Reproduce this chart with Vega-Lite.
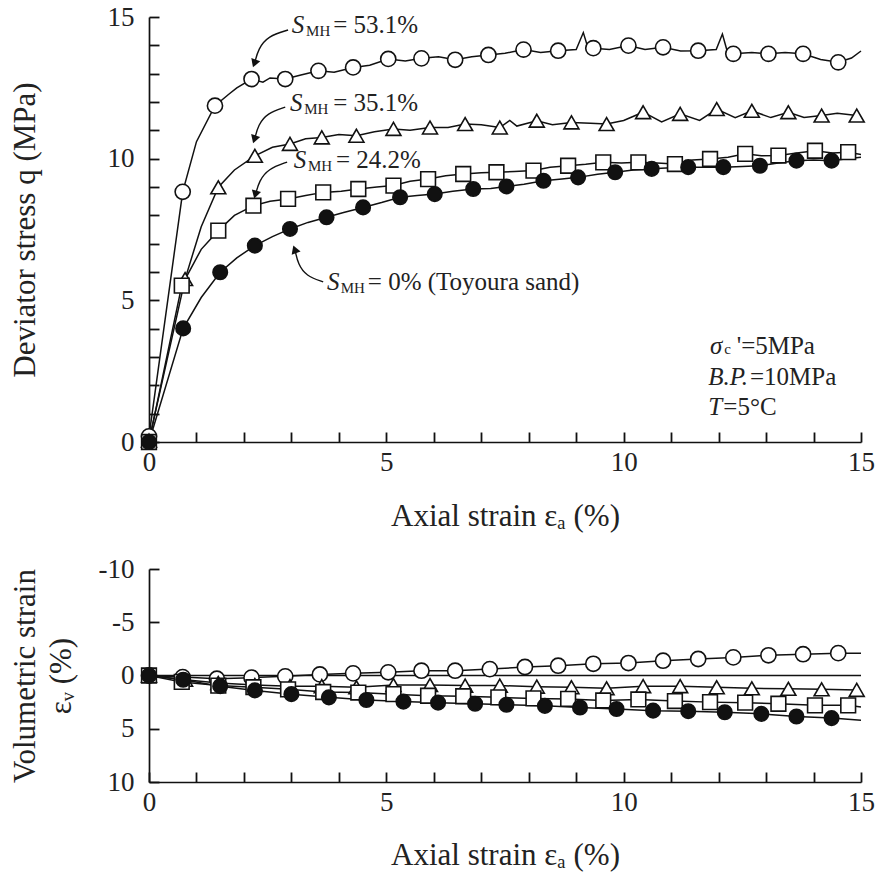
{
  "$schema": "https://vega.github.io/schema/vega-lite/v6.json",
  "background": "white",
  "padding": {"left": 9, "top": 3, "right": 4, "bottom": 5},
  "bounds": "flush",
  "spacing": 127,
  "config": {
    "view": {"stroke": null},
    "font": "Liberation Serif",
    "axis": {
      "domainColor": "#111", "domainWidth": 1.7, "tickColor": "#111", "tickWidth": 1.8, "tickSize": -10,
      "grid": false, "labelFont": "Liberation Serif", "labelFontSize": 27, "labelColor": "#222",
      "titleFont": "Liberation Serif", "titleFontSize": 31, "titleFontWeight": "normal", "titleColor": "#222",
      "labelFlush": false, "labelOverlap": false, "labelBound": false
    }
  },
  "datasets": {
    "q": [
      {"s":"53.1","e":0,"q":0.2,"m":1},{"s":"53.1","e":0.71,"q":8.83,"m":1},{"s":"53.1","e":1.0,"q":10.6,"m":0},{"s":"53.1","e":1.39,"q":11.87,"m":1},{"s":"53.1","e":1.7,"q":12.3,"m":0},{"s":"53.1","e":1.85,"q":12.5,"m":0},{"s":"53.1","e":2.16,"q":12.81,"m":1},{"s":"53.1","e":2.4,"q":12.7,"m":0},{"s":"53.1","e":2.55,"q":12.85,"m":0},{"s":"53.1","e":2.87,"q":12.81,"m":1},{"s":"53.1","e":3.2,"q":12.95,"m":0},{"s":"53.1","e":3.57,"q":13.1,"m":1},{"s":"53.1","e":3.9,"q":13.05,"m":0},{"s":"53.1","e":4.3,"q":13.22,"m":1},{"s":"53.1","e":4.65,"q":13.3,"m":0},{"s":"53.1","e":5.04,"q":13.52,"m":1},{"s":"53.1","e":5.4,"q":13.45,"m":0},{"s":"53.1","e":5.74,"q":13.54,"m":1},{"s":"53.1","e":6.1,"q":13.6,"m":0},{"s":"53.1","e":6.45,"q":13.49,"m":1},{"s":"53.1","e":6.8,"q":13.6,"m":0},{"s":"53.1","e":7.15,"q":13.66,"m":1},{"s":"53.1","e":7.5,"q":13.72,"m":0},{"s":"53.1","e":7.89,"q":13.85,"m":1},{"s":"53.1","e":8.25,"q":13.75,"m":0},{"s":"53.1","e":8.62,"q":13.81,"m":1},{"s":"53.1","e":9.0,"q":13.85,"m":0},{"s":"53.1","e":9.15,"q":14.45,"m":0},{"s":"53.1","e":9.25,"q":13.9,"m":0},{"s":"53.1","e":9.36,"q":13.9,"m":1},{"s":"53.1","e":9.7,"q":13.85,"m":0},{"s":"53.1","e":10.1,"q":13.99,"m":1},{"s":"53.1","e":10.45,"q":13.85,"m":0},{"s":"53.1","e":10.83,"q":13.93,"m":1},{"s":"53.1","e":11.2,"q":13.8,"m":0},{"s":"53.1","e":11.57,"q":13.81,"m":1},{"s":"53.1","e":11.95,"q":13.85,"m":0},{"s":"53.1","e":12.08,"q":14.4,"m":0},{"s":"53.1","e":12.18,"q":13.8,"m":0},{"s":"53.1","e":12.31,"q":13.7,"m":1},{"s":"53.1","e":12.7,"q":13.75,"m":0},{"s":"53.1","e":13.05,"q":13.7,"m":1},{"s":"53.1","e":13.4,"q":13.75,"m":0},{"s":"53.1","e":13.78,"q":13.7,"m":1},{"s":"53.1","e":14.15,"q":13.5,"m":0},{"s":"53.1","e":14.52,"q":13.4,"m":1},{"s":"53.1","e":14.8,"q":13.55,"m":0},{"s":"53.1","e":15.0,"q":13.8,"m":0},
      {"s":"35.1","e":0,"q":0.05,"m":1},{"s":"35.1","e":0.76,"q":5.75,"m":1},{"s":"35.1","e":1.1,"q":7.6,"m":0},{"s":"35.1","e":1.46,"q":8.99,"m":1},{"s":"35.1","e":1.8,"q":9.6,"m":0},{"s":"35.1","e":2.23,"q":10.1,"m":1},{"s":"35.1","e":2.6,"q":10.4,"m":0},{"s":"35.1","e":2.97,"q":10.52,"m":1},{"s":"35.1","e":3.3,"q":10.7,"m":0},{"s":"35.1","e":3.64,"q":10.75,"m":1},{"s":"35.1","e":4.0,"q":10.85,"m":0},{"s":"35.1","e":4.37,"q":10.81,"m":1},{"s":"35.1","e":4.75,"q":10.95,"m":0},{"s":"35.1","e":5.15,"q":11.05,"m":1},{"s":"35.1","e":5.5,"q":11.0,"m":0},{"s":"35.1","e":5.92,"q":11.1,"m":1},{"s":"35.1","e":6.3,"q":11.1,"m":0},{"s":"35.1","e":6.66,"q":11.22,"m":1},{"s":"35.1","e":7.0,"q":11.2,"m":0},{"s":"35.1","e":7.39,"q":11.1,"m":1},{"s":"35.1","e":7.6,"q":11.35,"m":0},{"s":"35.1","e":7.75,"q":11.15,"m":0},{"s":"35.1","e":8.17,"q":11.34,"m":1},{"s":"35.1","e":8.5,"q":11.2,"m":0},{"s":"35.1","e":8.9,"q":11.28,"m":1},{"s":"35.1","e":9.3,"q":11.25,"m":0},{"s":"35.1","e":9.64,"q":11.22,"m":1},{"s":"35.1","e":10.0,"q":11.35,"m":0},{"s":"35.1","e":10.41,"q":11.64,"m":1},{"s":"35.1","e":10.8,"q":11.3,"m":0},{"s":"35.1","e":11.19,"q":11.58,"m":1},{"s":"35.1","e":11.6,"q":11.35,"m":0},{"s":"35.1","e":11.96,"q":11.75,"m":1},{"s":"35.1","e":12.35,"q":11.45,"m":0},{"s":"35.1","e":12.7,"q":11.69,"m":1},{"s":"35.1","e":13.1,"q":11.45,"m":0},{"s":"35.1","e":13.47,"q":11.64,"m":1},{"s":"35.1","e":13.8,"q":11.45,"m":0},{"s":"35.1","e":14.17,"q":11.52,"m":1},{"s":"35.1","e":14.5,"q":11.6,"m":0},{"s":"35.1","e":14.91,"q":11.52,"m":1},
      {"s":"24.2","e":0,"q":0,"m":1},{"s":"24.2","e":0.69,"q":5.52,"m":1},{"s":"24.2","e":1.1,"q":6.8,"m":0},{"s":"24.2","e":1.46,"q":7.46,"m":1},{"s":"24.2","e":1.8,"q":8.0,"m":0},{"s":"24.2","e":2.2,"q":8.34,"m":1},{"s":"24.2","e":2.55,"q":8.5,"m":0},{"s":"24.2","e":2.93,"q":8.58,"m":1},{"s":"24.2","e":3.3,"q":8.7,"m":0},{"s":"24.2","e":3.67,"q":8.81,"m":1},{"s":"24.2","e":4.05,"q":8.85,"m":0},{"s":"24.2","e":4.41,"q":8.93,"m":1},{"s":"24.2","e":4.8,"q":9.0,"m":0},{"s":"24.2","e":5.15,"q":9.05,"m":1},{"s":"24.2","e":5.5,"q":9.2,"m":0},{"s":"24.2","e":5.88,"q":9.28,"m":1},{"s":"24.2","e":6.25,"q":9.4,"m":0},{"s":"24.2","e":6.62,"q":9.46,"m":1},{"s":"24.2","e":7.0,"q":9.5,"m":0},{"s":"24.2","e":7.32,"q":9.52,"m":1},{"s":"24.2","e":7.7,"q":9.55,"m":0},{"s":"24.2","e":8.1,"q":9.58,"m":1},{"s":"24.2","e":8.45,"q":9.7,"m":0},{"s":"24.2","e":8.83,"q":9.75,"m":1},{"s":"24.2","e":9.2,"q":9.8,"m":0},{"s":"24.2","e":9.57,"q":9.87,"m":1},{"s":"24.2","e":9.95,"q":9.85,"m":0},{"s":"24.2","e":10.31,"q":9.87,"m":1},{"s":"24.2","e":10.7,"q":9.85,"m":0},{"s":"24.2","e":11.08,"q":9.81,"m":1},{"s":"24.2","e":11.45,"q":9.95,"m":0},{"s":"24.2","e":11.82,"q":9.99,"m":1},{"s":"24.2","e":12.2,"q":10.05,"m":0},{"s":"24.2","e":12.56,"q":10.17,"m":1},{"s":"24.2","e":12.9,"q":10.1,"m":0},{"s":"24.2","e":13.26,"q":10.11,"m":1},{"s":"24.2","e":13.65,"q":10.2,"m":0},{"s":"24.2","e":14.03,"q":10.28,"m":1},{"s":"24.2","e":14.4,"q":10.2,"m":0},{"s":"24.2","e":14.73,"q":10.23,"m":1},{"s":"24.2","e":15.0,"q":10.15,"m":0},
      {"s":"0","e":0,"q":0,"m":1},{"s":"0","e":0.72,"q":4.01,"m":1},{"s":"0","e":1.1,"q":5.1,"m":0},{"s":"0","e":1.5,"q":5.99,"m":1},{"s":"0","e":1.85,"q":6.5,"m":0},{"s":"0","e":2.23,"q":6.93,"m":1},{"s":"0","e":2.6,"q":7.25,"m":0},{"s":"0","e":2.97,"q":7.52,"m":1},{"s":"0","e":3.35,"q":7.75,"m":0},{"s":"0","e":3.74,"q":7.93,"m":1},{"s":"0","e":4.1,"q":8.1,"m":0},{"s":"0","e":4.51,"q":8.28,"m":1},{"s":"0","e":4.9,"q":8.45,"m":0},{"s":"0","e":5.29,"q":8.64,"m":1},{"s":"0","e":5.65,"q":8.7,"m":0},{"s":"0","e":6.02,"q":8.75,"m":1},{"s":"0","e":6.4,"q":8.85,"m":0},{"s":"0","e":6.83,"q":8.93,"m":1},{"s":"0","e":7.2,"q":8.95,"m":0},{"s":"0","e":7.53,"q":9.02,"m":1},{"s":"0","e":7.9,"q":9.1,"m":0},{"s":"0","e":8.31,"q":9.22,"m":1},{"s":"0","e":8.7,"q":9.28,"m":0},{"s":"0","e":9.04,"q":9.34,"m":1},{"s":"0","e":9.45,"q":9.45,"m":0},{"s":"0","e":9.82,"q":9.52,"m":1},{"s":"0","e":10.2,"q":9.6,"m":0},{"s":"0","e":10.59,"q":9.64,"m":1},{"s":"0","e":11.0,"q":9.68,"m":0},{"s":"0","e":11.36,"q":9.7,"m":1},{"s":"0","e":11.75,"q":9.7,"m":0},{"s":"0","e":12.1,"q":9.7,"m":1},{"s":"0","e":12.5,"q":9.72,"m":0},{"s":"0","e":12.87,"q":9.75,"m":1},{"s":"0","e":13.25,"q":9.85,"m":0},{"s":"0","e":13.64,"q":9.93,"m":1},{"s":"0","e":14.0,"q":9.95,"m":0},{"s":"0","e":14.38,"q":9.93,"m":1},{"s":"0","e":14.7,"q":10.0,"m":0},{"s":"0","e":15.0,"q":10.05,"m":0}
    ],
    "v": [
      {"s":"53.1","e":0,"v":0,"m":1},{"s":"53.1","e":0.71,"v":0.15,"m":1},{"s":"53.1","e":1.43,"v":0.3,"m":1},{"s":"53.1","e":2.16,"v":0.2,"m":1},{"s":"53.1","e":2.87,"v":0.08,"m":1},{"s":"53.1","e":3.6,"v":-0.1,"m":1},{"s":"53.1","e":4.3,"v":-0.2,"m":1},{"s":"53.1","e":5.04,"v":-0.3,"m":1},{"s":"53.1","e":5.74,"v":-0.45,"m":1},{"s":"53.1","e":6.45,"v":-0.45,"m":1},{"s":"53.1","e":7.18,"v":-0.6,"m":1},{"s":"53.1","e":7.92,"v":-0.8,"m":1},{"s":"53.1","e":8.62,"v":-0.92,"m":1},{"s":"53.1","e":9.36,"v":-1.1,"m":1},{"s":"53.1","e":10.1,"v":-1.17,"m":1},{"s":"53.1","e":10.83,"v":-1.39,"m":1},{"s":"53.1","e":11.57,"v":-1.55,"m":1},{"s":"53.1","e":12.31,"v":-1.7,"m":1},{"s":"53.1","e":13.05,"v":-1.9,"m":1},{"s":"53.1","e":13.78,"v":-2.0,"m":1},{"s":"53.1","e":14.52,"v":-2.1,"m":1},{"s":"53.1","e":15.0,"v":-2.1,"m":0},
      {"s":"35.1","e":0,"v":0,"m":1},{"s":"35.1","e":0.76,"v":0.4,"m":1},{"s":"35.1","e":1.46,"v":0.7,"m":1},{"s":"35.1","e":2.23,"v":0.9,"m":1},{"s":"35.1","e":2.97,"v":1.0,"m":1},{"s":"35.1","e":3.64,"v":1.0,"m":1},{"s":"35.1","e":4.37,"v":1.1,"m":1},{"s":"35.1","e":5.15,"v":0.9,"m":1},{"s":"35.1","e":5.92,"v":0.9,"m":1},{"s":"35.1","e":6.66,"v":0.95,"m":1},{"s":"35.1","e":7.39,"v":0.95,"m":1},{"s":"35.1","e":8.17,"v":1.05,"m":1},{"s":"35.1","e":8.9,"v":1.1,"m":1},{"s":"35.1","e":9.64,"v":1.2,"m":1},{"s":"35.1","e":10.41,"v":1.0,"m":1},{"s":"35.1","e":11.19,"v":1.0,"m":1},{"s":"35.1","e":11.96,"v":1.1,"m":1},{"s":"35.1","e":12.7,"v":1.2,"m":1},{"s":"35.1","e":13.47,"v":1.25,"m":1},{"s":"35.1","e":14.17,"v":1.3,"m":1},{"s":"35.1","e":14.91,"v":1.35,"m":1},
      {"s":"24.2","e":0,"v":0,"m":1},{"s":"24.2","e":0.69,"v":0.6,"m":1},{"s":"24.2","e":1.46,"v":0.95,"m":1},{"s":"24.2","e":2.2,"v":1.1,"m":1},{"s":"24.2","e":2.93,"v":1.3,"m":1},{"s":"24.2","e":3.67,"v":1.55,"m":1},{"s":"24.2","e":4.41,"v":1.6,"m":1},{"s":"24.2","e":5.15,"v":1.75,"m":1},{"s":"24.2","e":5.88,"v":1.9,"m":1},{"s":"24.2","e":6.62,"v":1.95,"m":1},{"s":"24.2","e":7.36,"v":2.05,"m":1},{"s":"24.2","e":8.1,"v":2.15,"m":1},{"s":"24.2","e":8.83,"v":2.2,"m":1},{"s":"24.2","e":9.57,"v":2.35,"m":1},{"s":"24.2","e":10.31,"v":2.25,"m":1},{"s":"24.2","e":11.08,"v":2.4,"m":1},{"s":"24.2","e":11.82,"v":2.5,"m":1},{"s":"24.2","e":12.56,"v":2.55,"m":1},{"s":"24.2","e":13.26,"v":2.65,"m":1},{"s":"24.2","e":14.03,"v":2.8,"m":1},{"s":"24.2","e":14.73,"v":2.8,"m":1},{"s":"24.2","e":15.0,"v":2.95,"m":0},
      {"s":"0","e":0,"v":0,"m":1},{"s":"0","e":0.72,"v":0.4,"m":1},{"s":"0","e":1.5,"v":1.0,"m":1},{"s":"0","e":2.23,"v":1.4,"m":1},{"s":"0","e":3.0,"v":1.75,"m":1},{"s":"0","e":3.79,"v":2.05,"m":1},{"s":"0","e":4.58,"v":2.3,"m":1},{"s":"0","e":5.36,"v":2.45,"m":1},{"s":"0","e":6.09,"v":2.55,"m":1},{"s":"0","e":6.87,"v":2.65,"m":1},{"s":"0","e":7.53,"v":2.75,"m":1},{"s":"0","e":8.34,"v":2.85,"m":1},{"s":"0","e":9.08,"v":3.0,"m":1},{"s":"0","e":9.85,"v":3.15,"m":1},{"s":"0","e":10.62,"v":3.3,"m":1},{"s":"0","e":11.36,"v":3.35,"m":1},{"s":"0","e":12.13,"v":3.45,"m":1},{"s":"0","e":12.9,"v":3.6,"m":1},{"s":"0","e":13.64,"v":3.85,"m":1},{"s":"0","e":14.38,"v":4.0,"m":1},{"s":"0","e":15.0,"v":4.2,"m":0}
    ],
    "annIt": [
      {"e":3.01,"q":14.72,"t":"S"},{"e":2.97,"q":11.97,"t":"S"},{"e":3.05,"q":9.95,"t":"S"},{"e":3.75,"q":5.65,"t":"S"},
      {"e":11.82,"q":3.40,"t":"σ"},{"e":11.78,"q":2.28,"t":"B.P."},{"e":11.78,"q":1.22,"t":"T"}
    ],
    "annSub": [
      {"e":3.31,"q":14.51,"t":"MH"},{"e":3.27,"q":11.75,"t":"MH"},{"e":3.35,"q":9.74,"t":"MH"},{"e":4.04,"q":5.44,"t":"MH"},
      {"e":12.12,"q":3.28,"t":"c"}
    ],
    "annRm": [
      {"e":3.88,"q":14.72,"t":"= 53.1%"},{"e":3.88,"q":11.97,"t":"= 35.1%"},{"e":3.94,"q":9.95,"t":"= 24.2%"},{"e":4.61,"q":5.65,"t":"= 0% (Toyoura sand)"},
      {"e":12.38,"q":3.40,"t":"'=5MPa"},{"e":12.66,"q":2.28,"t":"=10MPa"},{"e":12.1,"q":1.22,"t":"=5°C"}
    ],
    "arrows": [
      {"a":"53.1","o":1,"e":2.93,"q":14.54},{"a":"53.1","o":2,"e":2.51,"q":14.33},{"a":"53.1","o":3,"e":2.3,"q":13.87},{"a":"53.1","o":4,"e":2.23,"q":13.4},
      {"a":"35.1","o":1,"e":2.87,"q":11.82},{"a":"35.1","o":2,"e":2.49,"q":11.61},{"a":"35.1","o":3,"e":2.3,"q":11.19},{"a":"35.1","o":4,"e":2.23,"q":10.72},
      {"a":"24.2","o":1,"e":2.91,"q":9.88},{"a":"24.2","o":2,"e":2.51,"q":9.64},{"a":"24.2","o":3,"e":2.32,"q":9.21},{"a":"24.2","o":4,"e":2.25,"q":8.77},
      {"a":"0","o":1,"e":3.67,"q":5.65},{"a":"0","o":2,"e":3.31,"q":5.86},{"a":"0","o":3,"e":3.14,"q":6.28},{"a":"0","o":4,"e":3.08,"q":6.75}
    ],
    "heads": [
      {"a":"53.1","e":2.22,"q":13.36},{"a":"35.1","e":2.22,"q":10.68},{"a":"24.2","e":2.24,"q":8.73},{"a":"0","e":3.07,"q":6.8}
    ],
    "zero": [{"e":0,"v":0},{"e":15,"v":0}]
  },
  "vconcat": [
    {
      "width": 712,
      "height": 425,
      "encoding": {
        "x": {"field": "e", "type": "quantitative", "scale": {"domain": [0, 15], "nice": false},
          "axis": {"title": "Axial strain  εₐ (%)", "values": [0,1,2,3,4,5,6,7,8,9,10,11,12,13,14,15], "tickCount": 30, "format": "d",
            "labelExpr": "datum.value % 5 === 0 ? datum.label : ''", "labelPadding": 17, "titlePadding": 26}},
        "y": {"field": "q", "type": "quantitative", "scale": {"domain": [0, 15], "nice": false},
          "axis": {"title": "Deviator stress  q (MPa)", "values": [0,1,2,3,4,5,6,7,8,9,10,11,12,13,14,15], "tickCount": 30, "format": "d",
            "labelExpr": "datum.value % 5 === 0 ? datum.label : ''", "labelPadding": 25, "titlePadding": 66}}
      },
      "layer": [
        {
          "data": {"name": "q"},
          "mark": {"type": "line", "color": "#111", "strokeWidth": 1.5},
          "encoding": {"detail": {"field": "s"}}
        },
        {
          "data": {"name": "q"},
          "transform": [{"filter": "datum.m == 1"}],
          "mark": {"type": "point", "filled": true, "stroke": "#111", "strokeWidth": 1.6, "opacity": 1},
          "encoding": {
            "shape": {"field": "s", "type": "nominal", "scale": {"domain": ["53.1","35.1","24.2","0"], "range": ["circle","triangle-up","square","circle"]}, "legend": null},
            "fill": {"field": "s", "type": "nominal", "scale": {"domain": ["53.1","35.1","24.2","0"], "range": ["white","white","white","#111"]}, "legend": null},
            "size": {"field": "s", "type": "nominal", "scale": {"domain": ["53.1","35.1","24.2","0"], "range": [230, 210, 160, 230]}, "legend": null}
          }
        },
        {
          "data": {"name": "arrows"},
          "mark": {"type": "line", "color": "#111", "strokeWidth": 1.4, "interpolate": "basis"},
          "encoding": {"detail": {"field": "a"}, "order": {"field": "o"}}
        },
        {
          "data": {"name": "heads"},
          "transform": [{"filter": "datum.a == '53.1'"}],
          "mark": {"type": "point", "shape": "triangle-up", "angle": 200, "size": 90, "filled": true, "color": "#111", "opacity": 1}
        },
        {
          "data": {"name": "heads"},
          "transform": [{"filter": "datum.a == '35.1'"}],
          "mark": {"type": "point", "shape": "triangle-up", "angle": 198, "size": 90, "filled": true, "color": "#111", "opacity": 1}
        },
        {
          "data": {"name": "heads"},
          "transform": [{"filter": "datum.a == '24.2'"}],
          "mark": {"type": "point", "shape": "triangle-up", "angle": 196, "size": 90, "filled": true, "color": "#111", "opacity": 1}
        },
        {
          "data": {"name": "heads"},
          "transform": [{"filter": "datum.a == '0'"}],
          "mark": {"type": "point", "shape": "triangle-up", "angle": 340, "size": 90, "filled": true, "color": "#111", "opacity": 1}
        },
        {
          "data": {"name": "annIt"},
          "mark": {"type": "text", "align": "left", "baseline": "middle", "font": "Liberation Serif", "fontSize": 25, "fontStyle": "italic", "color": "#222"},
          "encoding": {"text": {"field": "t"}}
        },
        {
          "data": {"name": "annSub"},
          "mark": {"type": "text", "align": "left", "baseline": "middle", "font": "Liberation Serif", "fontSize": 15, "color": "#222"},
          "encoding": {"text": {"field": "t"}}
        },
        {
          "data": {"name": "annRm"},
          "mark": {"type": "text", "align": "left", "baseline": "middle", "font": "Liberation Serif", "fontSize": 25, "color": "#222"},
          "encoding": {"text": {"field": "t"}}
        }
      ]
    },
    {
      "width": 712,
      "height": 213,
      "encoding": {
        "x": {"field": "e", "type": "quantitative", "scale": {"domain": [0, 15], "nice": false},
          "axis": {"title": "Axial strain  εₐ (%)", "values": [0,1,2,3,4,5,6,7,8,9,10,11,12,13,14,15], "tickCount": 30, "format": "d",
            "labelExpr": "datum.value % 5 === 0 ? datum.label : ''", "labelPadding": 17, "titlePadding": 25}},
        "y": {"field": "v", "type": "quantitative", "scale": {"domain": [-10, 10], "nice": false, "reverse": true},
          "axis": {"title": ["Volumetric strain", "εᵥ (%)"], "values": [-10, -5, 0, 5, 10], "tickCount": 10,
            "labelExpr": "'' + datum.value", "labelPadding": 25, "titlePadding": 21, "titleLineHeight": 36}}
      },
      "layer": [
        {
          "data": {"name": "zero"},
          "mark": {"type": "line", "color": "#111", "strokeWidth": 1.4}
        },
        {
          "data": {"name": "v"},
          "mark": {"type": "line", "color": "#111", "strokeWidth": 1.5},
          "encoding": {"detail": {"field": "s"}}
        },
        {
          "data": {"name": "v"},
          "transform": [{"filter": "datum.m == 1"}],
          "mark": {"type": "point", "filled": true, "stroke": "#111", "strokeWidth": 1.6, "opacity": 1},
          "encoding": {
            "shape": {"field": "s", "type": "nominal", "scale": {"domain": ["53.1","35.1","24.2","0"], "range": ["circle","triangle-up","square","circle"]}, "legend": null},
            "fill": {"field": "s", "type": "nominal", "scale": {"domain": ["53.1","35.1","24.2","0"], "range": ["white","white","white","#111"]}, "legend": null},
            "size": {"field": "s", "type": "nominal", "scale": {"domain": ["53.1","35.1","24.2","0"], "range": [230, 210, 160, 230]}, "legend": null}
          }
        }
      ]
    }
  ]
}
